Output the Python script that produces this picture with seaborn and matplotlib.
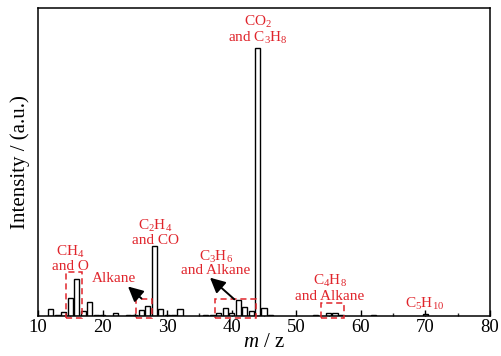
import matplotlib
matplotlib.use("Agg")
import matplotlib.pyplot as plt
import seaborn as sns
import pandas as pd
from matplotlib.patches import Rectangle
from matplotlib.ticker import MultipleLocator

# ---- data (relative intensity, m/z 44 = 100) ----
mz = [12, 13, 14, 15, 16, 17, 18, 19, 20, 22, 24, 25, 26, 27, 28, 29, 30, 31, 32,
      36, 37, 38, 39, 40, 41, 42, 43, 44, 45, 46, 53, 55, 56, 57, 62, 70]
intensity = [2.6, 0.3, 1.5, 6.7, 13.7, 1.9, 5.2, 0.3, 0.3, 1.3, 0.3, 0.5, 2.2, 3.7, 26.3, 2.6, 0.5, 0.3, 2.6,
             0.3, 0.5, 1.0, 3.0, 1.1, 5.9, 3.3, 1.9, 100.0, 3.1, 0.4, 0.3, 1.1, 1.1, 0.3, 0.3, 0.7]
x_ticks = [10, 20, 30, 40, 50, 60, 70, 80]

RED = "#e0242b"

sns.set_theme(style="white")
plt.rcParams["font.family"] = ["Liberation Serif", "DejaVu Serif"]
plt.rcParams["mathtext.fontset"] = "custom"
plt.rcParams["mathtext.rm"] = "Liberation Serif"
plt.rcParams["mathtext.it"] = "Liberation Serif:italic"
plt.rcParams["mathtext.bf"] = "Liberation Serif:bold"

df = pd.DataFrame({"mz": mz, "intensity": intensity})

fig = plt.figure(figsize=(5.02, 3.56), dpi=100)
ax = fig.add_axes([38 / 502, 40 / 356, 452 / 502, 308 / 356])

sns.barplot(data=df, x="mz", y="intensity", native_scale=True, width=0.8,
            color="white", saturation=1, edgecolor="black", linewidth=1.0,
            errorbar=None, ax=ax)

ax.set_xlim(10, 80)
ax.set_ylim(0, 115)
ax.set_xticks(x_ticks)
ax.set_xticklabels([str(t) for t in x_ticks])
ax.xaxis.set_minor_locator(MultipleLocator(5))
ax.set_yticks([])
ax.tick_params(axis="x", which="major", direction="in", length=4, width=1,
               labelsize=13.5, pad=2, bottom=True, top=False, colors="black")
ax.tick_params(axis="x", which="minor", direction="in", length=2.5, width=1,
               bottom=True, top=False)
for s in ax.spines.values():
    s.set_visible(True)
    s.set_color("black")
    s.set_linewidth(1.1)

ax.set_xlabel("$m$ / z", fontsize=15, labelpad=-2, color="black")
ax.set_ylabel("Intensity / (a.u.)", fontsize=15, labelpad=6, color="black")

def px2x(px):
    return 10 + (px - 38) / (452 / 70)

def py2y(py):
    return (316 - py) / 308 * 115

labels = [
    ("CO$_2$", 258, 22), ("and C$_3$H$_8$", 258, 38),
    ("C$_2$H$_4$", 155, 226), ("and CO", 155, 240),
    ("CH$_4$", 70, 252), ("and O", 70, 267),
    ("Alkane", 114, 279),
    ("C$_3$H$_6$", 216, 257), ("and Alkane", 216, 271),
    ("C$_4$H$_8$", 330, 281), ("and Alkane", 330, 296),
    ("C$_5$H$_{10}$", 425, 304),
]
for txt, px, py in labels:
    ax.text(px2x(px), py2y(py), txt, color=RED, fontsize=11, ha="center", va="center")

rects = [(14.3, 16.8, 16.3), (25.2, 27.6, 6.2), (37.4, 43.7, 6.3), (53.9, 57.4, 4.7)]
for x0, x1, h in rects:
    ax.add_patch(Rectangle((x0, -0.6), x1 - x0, h + 0.6, fill=False, edgecolor=RED,
                           linestyle=(0, (4, 2.5)), linewidth=1.1, clip_on=False, zorder=3))

arrows = [((141.5, 298.5), (128, 286.5)), ((234.3, 299.3), (210, 277.7))]
for (tx, ty), (hx, hy) in arrows:
    ax.annotate("", xy=(px2x(hx), py2y(hy)), xytext=(px2x(tx), py2y(ty)),
                arrowprops=dict(arrowstyle="-|>,head_width=0.3,head_length=0.6",
                                color="black", lw=1.4, mutation_scale=15,
                                shrinkA=0, shrinkB=0))

fig.savefig("out.png", dpi=100)
